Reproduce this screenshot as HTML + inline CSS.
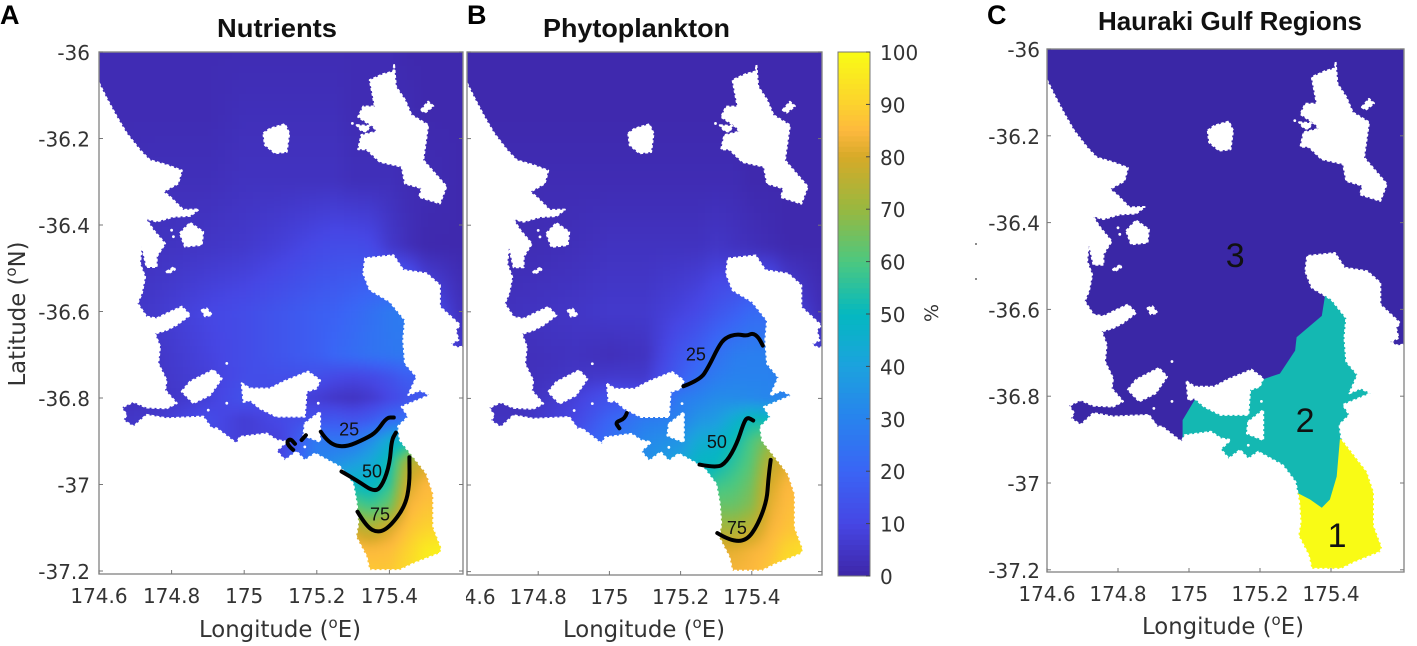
<!DOCTYPE html>
<html lang="en">
<head>
<meta charset="utf-8">
<title>Hauraki Gulf maps</title>
<style>
html,body{margin:0;padding:0;background:#fff;width:1417px;height:646px;overflow:hidden}
svg{display:block}
.tick{font-family:"DejaVu Sans","Liberation Sans",sans-serif;font-size:20px;fill:#333}
.axis-title{font-family:"DejaVu Sans","Liberation Sans",sans-serif;font-size:22.8px;fill:#333}
.title{font-family:"Liberation Sans",sans-serif;font-size:26px;font-weight:bold;fill:#111}
.letter{font-family:"Liberation Sans",sans-serif;font-size:27px;font-weight:bold;fill:#000}
.clabel{font-family:"Liberation Sans",sans-serif;font-size:18px;fill:#111}
.rlabel{font-family:"Liberation Sans",sans-serif;font-size:34px;fill:#111}
</style>
</head>
<body>
<svg id="chart" xmlns="http://www.w3.org/2000/svg" width="1417" height="646" viewBox="0 0 1417 646">
<defs>
<filter id="smooth" filterUnits="userSpaceOnUse" x="0" y="0" width="1417" height="646" color-interpolation-filters="sRGB"><feGaussianBlur stdDeviation="3.5"/></filter>
<clipPath id="clip-a"><rect x="99" y="52" width="364" height="522"/></clipPath>
<clipPath id="clip-b"><rect x="467" y="52" width="355" height="523"/></clipPath>
<clipPath id="clip-c"><rect x="1047" y="49" width="357" height="523"/></clipPath>
<clipPath id="clip-b-ticks"><rect x="466" y="575" width="370" height="40"/></clipPath>
</defs>
<text class="letter" x="0" y="24">A</text>
<text class="letter" x="467" y="24">B</text>
<text class="letter" x="987" y="24">C</text>
<text class="title" x="217" y="37" textLength="120" lengthAdjust="spacingAndGlyphs">Nutrients</text>
<text class="title" x="543" y="37" textLength="187" lengthAdjust="spacingAndGlyphs">Phytoplankton</text>
<text class="title" x="1098" y="30" textLength="264" lengthAdjust="spacingAndGlyphs">Hauraki Gulf Regions</text>
<text class="axis-title" x="280" y="637" text-anchor="middle">Longitude (<tspan font-size="15" dy="-9">o</tspan><tspan dy="9">E)</tspan></text>
<text class="axis-title" x="644" y="637" text-anchor="middle">Longitude (<tspan font-size="15" dy="-9">o</tspan><tspan dy="9">E)</tspan></text>
<text class="axis-title" x="1223" y="634" text-anchor="middle">Longitude (<tspan font-size="15" dy="-9">o</tspan><tspan dy="9">E)</tspan></text>
<text class="axis-title" transform="translate(25,314) rotate(-90)" text-anchor="middle">Latitude (<tspan font-size="15" dy="-9">o</tspan><tspan dy="9">N)</tspan></text>
<text class="tick" transform="translate(938,313) rotate(-90)" text-anchor="middle" style="font-size:19px">%</text>
<circle cx="976" cy="244" r="1" fill="#666"/>
<circle cx="976" cy="279" r="1" fill="#666"/>
</svg>
<script>
// ---------- chart data (longitude / latitude in degrees, field values in %) ----------
const lonTicks = [174.6, 174.8, 175, 175.2, 175.4];
const latTicks = [-36, -36.2, -36.4, -36.6, -36.8, -37, -37.2];
const colorbarTicks = [0, 10, 20, 30, 40, 50, 60, 70, 80, 90, 100];
const gridLons = [174.6, 174.75, 174.9, 175.0, 175.1, 175.2, 175.25, 175.3, 175.35, 175.4, 175.45, 175.5, 175.6];
const gridLats = [-36, -36.15, -36.3, -36.45, -36.6, -36.7, -36.75, -36.8, -36.85, -36.9, -36.95, -37, -37.05, -37.1, -37.15, -37.2];

const nutrientsField = [
 [2,2,2,2,2,2,2,2,2,2,1,1,1],
 [2,2,2,3,3,3,3,2,2,2,2,1,1],
 [2,3,3,4,4,4,4,3,3,3,2,2,1],
 [3,4,5,6,8,11,12,12,11,6,3,1,1],
 [4,6,10,12,15,18,19,21,24,27,28,14,3],
 [3,5,9,12,15,18,21,23,25,26,27,22,5],
 [3,5,8,12,13,13,11,10,11,14,18,18,18],
 [3,4,8,14,10,7,5,4,6,10,14,16,16],
 [4,6,12,7,11,14,16,14,17,22,24,24,24],
 [5,6,10,8,8,28,26,27,34,45,50,52,52],
 [8,8,8,8,10,30,34,38,43,52,74,80,80],
 [8,8,8,8,10,32,44,50,48,56,80,85,85],
 [8,8,8,8,10,32,50,62,58,64,84,87,88],
 [8,8,8,8,10,32,50,78,74,80,87,90,92],
 [8,8,8,8,10,32,50,86,85,86,90,96,99],
 [8,8,8,8,10,32,50,88,88,88,92,97,99]
];
const phytoplanktonField = [
 [1,1,1,1,1,1,1,1,1,1,1,1,1],
 [1,1,1,1,1,1,1,1,1,1,1,1,1],
 [2,2,2,2,2,2,2,2,2,1,1,1,1],
 [2,2,3,4,4,4,4,5,4,3,2,1,1],
 [3,4,5,6,6,9,11,15,18,22,22,10,2],
 [3,3,4,3,4,15,19,24,28,29,29,24,5],
 [3,3,5,6,6,18,24,28,30,30,30,28,20],
 [3,3,8,14,12,28,30,33,33,32,31,30,30],
 [4,4,10,20,28,30,36,38,45,52,50,50,50],
 [5,5,14,24,32,36,44,46,52,60,68,70,70],
 [6,6,14,24,34,42,49,50,56,62,76,82,82],
 [6,6,14,24,34,42,49,58,60,65,80,85,85],
 [6,6,14,24,34,42,49,64,64,68,82,86,87],
 [6,6,14,24,34,42,49,72,72,76,84,87,89],
 [6,6,14,24,34,42,49,82,82,84,86,91,95],
 [6,6,14,24,34,42,49,84,84,85,88,93,96]
];

const colormapLevels = [0, 10, 20, 30, 40, 50, 60, 70, 80, 85, 90, 100];
const colormapColors = [[62,38,168],[70,70,228],[58,100,245],[40,130,238],[28,162,222],[4,184,192],[76,200,128],[152,184,64],[214,170,40],[253,184,62],[252,210,46],[249,251,21]];

const coastLons = [174.6,174.621,174.649,174.676,174.713,174.74,174.786,174.828,174.818,174.777,174.796,174.832,174.875,174.851,174.805,174.759,174.729,174.75,174.782,174.759,174.759,174.731,174.718,174.713,174.727,174.718,174.706,174.731,174.759,174.796,174.828,174.851,174.814,174.786,174.754,174.768,174.763,174.786,174.782,174.814,174.786,174.731,174.695,174.662,174.676,174.667,174.695,174.731,174.786,174.887,174.91,174.924,174.979,174.988,175.062,175.089,175.117,175.089,175.112,175.144,175.167,175.195,175.264,175.3,175.31,175.314,175.308,175.337,175.345,175.429,175.466,175.539,175.544,175.521,175.521,175.502,175.429,175.424,175.452,175.434,175.512,175.484,175.452,175.475,175.443,175.438,175.443,175.401,175.346,175.328,175.333,175.411,175.438,175.502,175.539,175.539,175.594,175.583,175.59,175.567,175.585,175.62,175.62,174.58,174.58];
const coastLats = [-36.072,-36.107,-36.15,-36.188,-36.227,-36.25,-36.261,-36.274,-36.304,-36.323,-36.335,-36.365,-36.364,-36.379,-36.381,-36.392,-36.385,-36.412,-36.443,-36.473,-36.497,-36.497,-36.45,-36.489,-36.52,-36.558,-36.581,-36.612,-36.616,-36.601,-36.589,-36.608,-36.631,-36.643,-36.651,-36.681,-36.72,-36.759,-36.782,-36.812,-36.824,-36.822,-36.809,-36.822,-36.839,-36.851,-36.866,-36.839,-36.847,-36.843,-36.87,-36.87,-36.905,-36.89,-36.882,-36.897,-36.901,-36.922,-36.944,-36.924,-36.944,-36.928,-36.959,-36.998,-37.044,-37.09,-37.121,-37.167,-37.198,-37.198,-37.183,-37.159,-37.148,-37.098,-37.021,-36.974,-36.897,-36.866,-36.843,-36.82,-36.793,-36.782,-36.793,-36.751,-36.72,-36.666,-36.62,-36.577,-36.55,-36.512,-36.477,-36.47,-36.504,-36.512,-36.539,-36.589,-36.631,-36.643,-36.666,-36.675,-36.683,-36.68,-37.25,-37.25,-36.072];

const littleBarrier = [[175.053,-36.188],[175.071,-36.177],[175.112,-36.167],[175.124,-36.188],[175.117,-36.231],[175.085,-36.234],[175.057,-36.215]];
const greatBarrier = [[175.413,-36.03],[175.418,-36.08],[175.443,-36.111],[175.461,-36.146],[175.507,-36.169],[175.493,-36.25],[175.557,-36.311],[175.539,-36.35],[175.482,-36.335],[175.489,-36.315],[175.443,-36.304],[175.434,-36.265],[175.374,-36.254],[175.337,-36.225],[175.314,-36.225],[175.323,-36.192],[175.365,-36.184],[175.356,-36.173],[175.314,-36.15],[175.328,-36.126],[175.36,-36.126],[175.346,-36.065],[175.383,-36.051],[175.411,-36.045]];
const barrierIslet = [[175.31,-36.169],[175.346,-36.171],[175.337,-36.184],[175.323,-36.182]];
const barrierSliver = [[175.487,-36.134],[175.507,-36.115],[175.521,-36.125],[175.498,-36.14]];
const kawauIsland = [[174.823,-36.419],[174.851,-36.395],[174.887,-36.416],[174.883,-36.446],[174.837,-36.45]];
const motuoraSliver = [[174.786,-36.508],[174.807,-36.497],[174.809,-36.503],[174.791,-36.512]];
const tiritiriIsland = [[174.883,-36.597],[174.897,-36.593],[174.911,-36.608],[174.892,-36.611]];
const rangitotoIsland = [[174.828,-36.785],[174.851,-36.762],[174.915,-36.735],[174.938,-36.755],[174.906,-36.793],[174.86,-36.812]];
const waihekeIsland = [[174.993,-36.766],[175.016,-36.778],[175.071,-36.778],[175.108,-36.762],[175.176,-36.739],[175.209,-36.759],[175.199,-36.778],[175.172,-36.785],[175.167,-36.843],[175.089,-36.843],[175.043,-36.824],[175.016,-36.805],[174.998,-36.809]];
const ponuiIsland = [[175.167,-36.859],[175.209,-36.832],[175.209,-36.901],[175.163,-36.886]];
const isletLons = [175.298, 174.8, 174.805, 175.204, 175.167, 174.952, 174.952, 174.901, 174.901];
const isletLats = [-36.165, -36.412, -36.427, -36.812, -36.913, -36.72, -36.812, -36.828, -36.863];

const nutrients25Main = [[175.211,-36.878],[175.232,-36.905],[175.277,-36.915],[175.337,-36.893],[175.365,-36.878],[175.392,-36.845],[175.412,-36.845]];
const nutrients25Hook = [[175.135,-36.92],[175.115,-36.906],[175.126,-36.893],[175.14,-36.906]];
const nutrients25Dash = [[175.158,-36.897],[175.17,-36.886]];
const nutrients50 = [[175.268,-36.97],[175.31,-36.99],[175.36,-37.019],[175.383,-36.998],[175.401,-36.951],[175.406,-36.897],[175.418,-36.88]];
const nutrients75 = [[175.312,-37.063],[175.337,-37.098],[175.369,-37.112],[175.401,-37.098],[175.443,-37.051],[175.456,-36.998],[175.455,-36.937]];
const phyto25Main = [[175.208,-36.772],[175.255,-36.757],[175.278,-36.728],[175.306,-36.681],[175.325,-36.66],[175.358,-36.651],[175.386,-36.656],[175.402,-36.649],[175.418,-36.658],[175.431,-36.678]];
const phyto25Small = [[175.049,-36.834],[175.044,-36.847],[175.016,-36.855],[175.028,-36.869]];
const phyto50 = [[175.253,-36.953],[175.302,-36.961],[175.329,-36.947],[175.358,-36.905],[175.376,-36.859],[175.387,-36.843],[175.404,-36.851]];
const phyto75 = [[175.303,-37.111],[175.339,-37.129],[175.386,-37.129],[175.418,-37.09],[175.442,-37.036],[175.446,-36.99],[175.453,-36.942]];

const region1Outline = [[175.2,-36.89],[175.62,-36.89],[175.62,-37.25],[175.2,-37.25]];
const region2Outline = [[175.383,-36.569],[175.374,-36.615],[175.303,-36.664],[175.299,-36.695],[175.256,-36.748],[175.205,-36.762],[175.172,-36.782],[175.02,-36.803],[174.982,-36.855],[174.982,-36.872],[174.982,-36.97],[175.308,-37.024],[175.341,-37.038],[175.374,-37.057],[175.397,-37.038],[175.416,-36.985],[175.425,-36.899],[175.52,-36.9],[175.52,-36.78],[175.48,-36.7],[175.48,-36.57]];

// ---------- helpers ----------
const SVGNS = 'http://www.w3.org/2000/svg';
const root = document.getElementById('chart');
function make(tag, parent, attrs) {
  const n = document.createElementNS(SVGNS, tag);
  for (const k in attrs) n.setAttribute(k, attrs[k]);
  parent.appendChild(n);
  return n;
}
function parula(v) {
  const c = Math.max(colormapLevels[0], Math.min(colormapLevels[colormapLevels.length - 1], v));
  let i = 0;
  while (i < colormapLevels.length - 2 && c > colormapLevels[i + 1]) i++;
  const t = (c - colormapLevels[i]) / (colormapLevels[i + 1] - colormapLevels[i]);
  const a = colormapColors[i], b = colormapColors[i + 1];
  return 'rgb(' + [0, 1, 2].map(function (j) { return Math.round(a[j] + (b[j] - a[j]) * t); }).join(',') + ')';
}
function axisX(p, lon) { return p.left + (lon - 174.6) * p.kx; }
function axisY(p, lat) { return p.top + (-36 - lat) * p.ky; }
function polyPoints(p, pts) {
  return pts.map(function (q) { return axisX(p, q[0]).toFixed(1) + ',' + axisY(p, q[1]).toFixed(1); }).join(' ');
}
function smoothPath(p, pts) {
  const xy = pts.map(function (q) { return [axisX(p, q[0]), axisY(p, q[1])]; });
  let d = 'M' + xy[0][0].toFixed(1) + ' ' + xy[0][1].toFixed(1);
  for (let i = 1; i < xy.length - 1; i++) {
    const mx = (xy[i][0] + xy[i + 1][0]) / 2, my = (xy[i][1] + xy[i + 1][1]) / 2;
    d += ' Q' + xy[i][0].toFixed(1) + ' ' + xy[i][1].toFixed(1) + ' ' + mx.toFixed(1) + ' ' + my.toFixed(1);
  }
  const e = xy[xy.length - 1];
  d += ' L' + e[0].toFixed(1) + ' ' + e[1].toFixed(1);
  return d;
}
function bracket(axis, v) {
  // axis values are monotonic; returns lower index and fraction
  const asc = axis[axis.length - 1] > axis[0];
  let i = 0;
  while (i < axis.length - 2 && (asc ? v > axis[i + 1] : v < axis[i + 1])) i++;
  const t = (v - axis[i]) / (axis[i + 1] - axis[i]);
  return [i, Math.max(0, Math.min(1, t))];
}
function sampleField(field, lon, lat) {
  const bx = bracket(gridLons, lon), by = bracket(gridLats, lat);
  const a = field[by[0]][bx[0]], b = field[by[0]][bx[0] + 1];
  const c = field[by[0] + 1][bx[0]], d = field[by[0] + 1][bx[0] + 1];
  const top = a + (b - a) * bx[1], bottom = c + (d - c) * bx[1];
  return top + (bottom - top) * by[1];
}

// ---------- panel geometry ----------
const panelA = { id: 'a', left: 99, right: 463, top: 52, bottom: 574, kx: 363, ky: 432.5, yLabels: true, yLabelX: 90 };
const panelB = { id: 'b', left: 467, right: 822, top: 52, bottom: 575, kx: 356, ky: 433, yLabels: false };
const panelC = { id: 'c', left: 1047, right: 1404, top: 49, bottom: 572, kx: 355, ky: 434, yLabels: true, yLabelX: 1040 };

function drawHeat(p, group, field) {
  const heat = make('g', group, { filter: 'url(#smooth)' });
  
  
  const step = 7;
  for (let y = p.top - 14; y < p.bottom + 14; y += step) {
    for (let x = p.left - 14; x < p.right + 14; x += step) {
      const lon = 174.6 + (x + step / 2 - p.left) / p.kx;
      const lat = -36 - (y + step / 2 - p.top) / p.ky;
      const cell = make('rect', heat, { x: x, y: y, width: step + 0.5, height: step + 0.5, fill: parula(sampleField(field, lon, lat)) });
      
      
    }
  }
}
function drawLand(p, group) {
  const land = make('g', group, { fill: '#fff', stroke: '#fff', 'stroke-width': 2, 'stroke-linejoin': 'round', 'stroke-dasharray': '3 2' });
  
  
  const coast = coastLons.map(function (lon, i) { return [lon, coastLats[i]]; });
  const shapes = [coast, littleBarrier, greatBarrier, barrierIslet, barrierSliver, kawauIsland, motuoraSliver, tiritiriIsland, rangitotoIsland, waihekeIsland, ponuiIsland];
  shapes.forEach(function (s) {
    const poly = make('polygon', land, { points: polyPoints(p, s) });
    
    
  });
  isletLons.forEach(function (lon, i) {
    const dot = make('circle', land, { cx: axisX(p, lon), cy: axisY(p, isletLats[i]), r: 1.4, 'stroke-width': 0 });
    
    
  });
}
function drawContours(p, group, lines) {
  lines.forEach(function (line) {
    const path = make('path', group, { d: smoothPath(p, line), fill: 'none', stroke: '#000', 'stroke-width': 4, 'stroke-linecap': 'round', 'stroke-linejoin': 'round' });
    
    
  });
}
function contourLabel(p, group, text, lon, lat) {
  const t = make('text', group, { class: 'clabel', x: axisX(p, lon), y: axisY(p, lat) + 6.5, 'text-anchor': 'middle' });
  t.textContent = text;
  
  
}
function drawAxes(p) {
  const g = make('g', root, {});
  
  
  const frame = make('rect', g, { x: p.left, y: p.top, width: p.right - p.left, height: p.bottom - p.top, fill: 'none', stroke: '#8a8a8a', 'stroke-width': 1.4 });
  
  
  lonTicks.forEach(function (lon) {
    const x = axisX(p, lon);
    const mark = make('line', g, { x1: x, x2: x, y1: p.bottom, y2: p.bottom - 4, stroke: '#777', 'stroke-width': 1 });
    
    
    const parent = p.id === 'b' ? make('g', g, { 'clip-path': 'url(#clip-b-ticks)' }) : g;
    const label = make('text', parent, { class: 'tick', x: x, y: p.bottom + 29, 'text-anchor': 'middle' });
    label.textContent = String(lon);
    
    
  });
  latTicks.forEach(function (lat) {
    const y = axisY(p, lat);
    const markL = make('line', g, { x1: p.left, x2: p.left + 4, y1: y, y2: y, stroke: '#777', 'stroke-width': 1 });
    
    
    const markR = make('line', g, { x1: p.right, x2: p.right - 4, y1: y, y2: y, stroke: '#777', 'stroke-width': 1 });
    
    
    if (p.yLabels) {
      const label = make('text', g, { class: 'tick', x: p.yLabelX, y: y + 8, 'text-anchor': 'end' });
      label.textContent = String(lat);
      
      
    }
  });
}

// ---------- panels A and B ----------
function heatPanel(p, name, field, lines, labels) {
  const g = make('g', root, { 'clip-path': 'url(#clip-' + p.id + ')' });
  
  
  drawHeat(p, g, field);
  drawLand(p, g);
  drawContours(p, g, lines);
  labels.forEach(function (l) { contourLabel(p, g, l[0], l[1], l[2]); });
  drawAxes(p);
}
const nutrientsLabels = [['25', 175.289, -36.872], ['50', 175.352, -36.969], ['75', 175.374, -37.068]];
const phytoLabels = [['25', 175.243, -36.698], ['50', 175.302, -36.899], ['75', 175.358, -37.098]];
heatPanel(panelA, 'nutrients-map', nutrientsField, [nutrients25Main, nutrients25Hook, nutrients25Dash, nutrients50, nutrients75], nutrientsLabels);
heatPanel(panelB, 'phytoplankton-map', phytoplanktonField, [phyto25Main, phyto25Small, phyto50, phyto75], phytoLabels);

// ---------- panel C ----------
const regionLabels = [['3', 175.13, -36.475], ['2', 175.327, -36.855], ['1', 175.417, -37.12]];
(function () {
  const p = panelC;
  const g = make('g', root, { 'clip-path': 'url(#clip-c)' });
  
  
  const base = make('rect', g, { x: p.left, y: p.top, width: p.right - p.left, height: p.bottom - p.top, fill: '#3a27a6' });
  
  
  const r1 = make('polygon', g, { points: polyPoints(p, region1Outline), fill: '#f9fb15' });
  
  
  const r2 = make('polygon', g, { points: polyPoints(p, region2Outline), fill: '#14b8b2' });
  
  
  drawLand(p, g);
  regionLabels.forEach(function (l) {
    const t = make('text', root, { class: 'rlabel', x: axisX(p, l[1]), y: axisY(p, l[2]) + 12, 'text-anchor': 'middle' });
    t.textContent = l[0];
    
    
  });
  drawAxes(p);
})();

// ---------- colorbar ----------
(function () {
  const cb = { left: 838, right: 870, top: 52, bottom: 576 };
  const scale = function (v) { return cb.bottom - (v / 100) * (cb.bottom - cb.top); };
  const g = make('g', root, {});
  
  
  for (let v = 0; v < 100; v++) {
    const s = make('rect', g, { x: cb.left, y: scale(v + 1), width: cb.right - cb.left, height: scale(v) - scale(v + 1) + 0.5, fill: parula(v + 0.5) });
    
    
  }
  const frame = make('rect', g, { x: cb.left, y: cb.top, width: cb.right - cb.left, height: cb.bottom - cb.top, fill: 'none', stroke: '#777', 'stroke-width': 1 });
  
  
  colorbarTicks.forEach(function (v) {
    const y = scale(v);
    const mark = make('line', g, { x1: cb.right, x2: cb.right - 4, y1: y, y2: y, stroke: '#444', 'stroke-width': 1 });
    
    
    const label = make('text', g, { class: 'tick', x: 880, y: y + 8 });
    label.textContent = String(v);
    
    
  });
})();
</script>
</body>
</html>
